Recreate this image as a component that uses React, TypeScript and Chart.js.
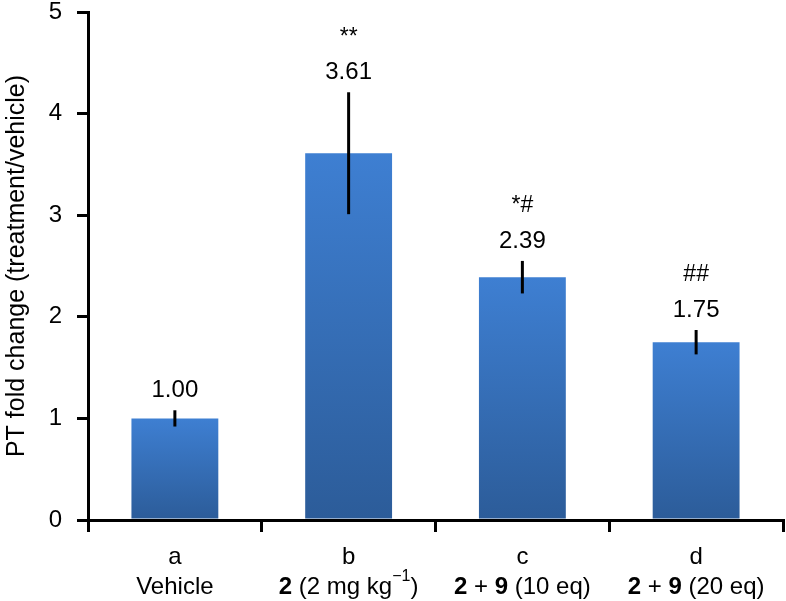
import React, { useEffect, useRef } from "react";
import { Chart, registerables } from "chart.js";

Chart.register(...registerables);

const categories = ["a", "b", "c", "d"];
const values = [1.0, 3.61, 2.39, 1.75];
const errors = [0.08, 0.6, 0.16, 0.12];
const valueLabels = ["1.00", "3.61", "2.39", "1.75"];
const sigLabels = ["", "**", "*#", "##"];
// second-line x labels as runs: [text, bold, superscript]
const groupLabels: [string, boolean, boolean][][] = [
  [["Vehicle", false, false]],
  [["2", true, false], [" (2 mg kg", false, false], ["\u22121", false, true], [")", false, false]],
  [["2", true, false], [" + ", false, false], ["9", true, false], [" (10 eq)", false, false]],
  [["2", true, false], [" + ", false, false], ["9", true, false], [" (20 eq)", false, false]],
];
const yTicks = [0, 1, 2, 3, 4, 5];

const FONT = "Liberation Sans, Arial, Helvetica, sans-serif";

export default function App() {
  const ref = useRef<HTMLCanvasElement>(null);
  useEffect(() => {
    document.body.style.margin = "0";
    const canvas = ref.current!;
    const annotate = {
      id: "annotate",
      afterDatasetsDraw(chart: any) {
        const ctx = chart.ctx;
        const xs = chart.scales.x;
        const ys = chart.scales.y;
        ctx.save();
        ctx.textAlign = "center";
        ctx.textBaseline = "middle";
        ctx.fillStyle = "#000";
        values.forEach((v, i) => {
          const x = xs.getPixelForValue(i);
          const yTop = ys.getPixelForValue(v + errors[i]);
          const yBot = ys.getPixelForValue(v - errors[i]);
          ctx.strokeStyle = "#000";
          ctx.lineWidth = 3;
          ctx.beginPath();
          ctx.moveTo(x, yTop);
          ctx.lineTo(x, yBot);
          ctx.stroke();
          ctx.font = `24px ${FONT}`;
          const ly = yTop - 20;
          ctx.fillText(valueLabels[i], x, ly);
          if (sigLabels[i]) {
            ctx.font = `23px ${FONT}`;
            ctx.fillText(sigLabels[i], x, ly - 35);
          }
        });
        // x labels
        const base = chart.chartArea.bottom;
        categories.forEach((c, i) => {
          const x = xs.getPixelForValue(i);
          ctx.font = `24px ${FONT}`;
          ctx.textAlign = "center";
          ctx.fillText(c, x, base + 37);
          const runs = groupLabels[i];
          const fontFor = (r: [string, boolean, boolean]) =>
            r[2] ? `16px ${FONT}` : `${r[1] ? "bold " : ""}24px ${FONT}`;
          let total = 0;
          runs.forEach((r) => {
            ctx.font = fontFor(r);
            total += ctx.measureText(r[0]).width;
          });
          let cx = x - total / 2;
          ctx.textAlign = "left";
          runs.forEach((r) => {
            ctx.font = fontFor(r);
            const yy = base + 67 + (r[2] ? -10 : 0);
            ctx.fillText(r[0], cx, yy);
            cx += ctx.measureText(r[0]).width;
          });
        });
        ctx.restore();
      },
    };
    const chart = new Chart(canvas, {
      type: "bar",
      data: {
        labels: categories,
        datasets: [
          {
            data: values,
            backgroundColor: (c: any) => {
              const ch = c.chart;
              if (!ch.chartArea || c.dataIndex === undefined) return "#3570b8";
              const ys = ch.scales.y;
              const top = ys.getPixelForValue(values[c.dataIndex]);
              const bot = ys.getPixelForValue(0);
              const g = ch.ctx.createLinearGradient(0, top, 0, bot);
              g.addColorStop(0, "#3e7fd2");
              g.addColorStop(1, "#2c5c99");
              return g;
            },
            borderWidth: 0,
            barPercentage: 0.5,
            categoryPercentage: 1,
          },
        ],
      },
      plugins: [annotate],
      options: {
        responsive: false,
        animation: false,
        layout: { padding: { top: 12, right: 3, left: 0, bottom: 0 } },
        plugins: { legend: { display: false }, tooltip: { enabled: false } },
        scales: {
          x: {
            offset: true,
            ticks: { display: false },
            grid: {
              offset: true,
              drawOnChartArea: false,
              drawTicks: true,
              tickLength: 12,
              color: "#000",
              lineWidth: 3,
            },
            border: { color: "#000", width: 3 },
            afterFit: (s: any) => {
              s.height = 81;
              s.paddingLeft = 0;
              s.paddingRight = 0;
            },
          },
          y: {
            min: 0,
            max: 5,
            afterBuildTicks: (s: any) => {
              s.ticks = yTicks.map((v) => ({ value: v }));
            },
            ticks: {
              color: "#000",
              font: { size: 24, family: FONT },
              padding: 15,
            },
            grid: {
              drawOnChartArea: false,
              tickLength: 11,
              color: "#000",
              lineWidth: 3,
            },
            border: { color: "#000", width: 3 },
            title: {
              display: true,
              text: "PT fold change (treatment/vehicle)",
              color: "#000",
              font: { size: 25, family: FONT },
              padding: { top: 2, bottom: 0 },
            },
            afterFit: (s: any) => {
              s.width = 88;
              s.paddingTop = 0;
              s.paddingBottom = 0;
            },
          },
        },
      },
    });
    return () => chart.destroy();
  }, []);
  return <canvas ref={ref} width={786} height={601} style={{ display: "block" }} />;
}
